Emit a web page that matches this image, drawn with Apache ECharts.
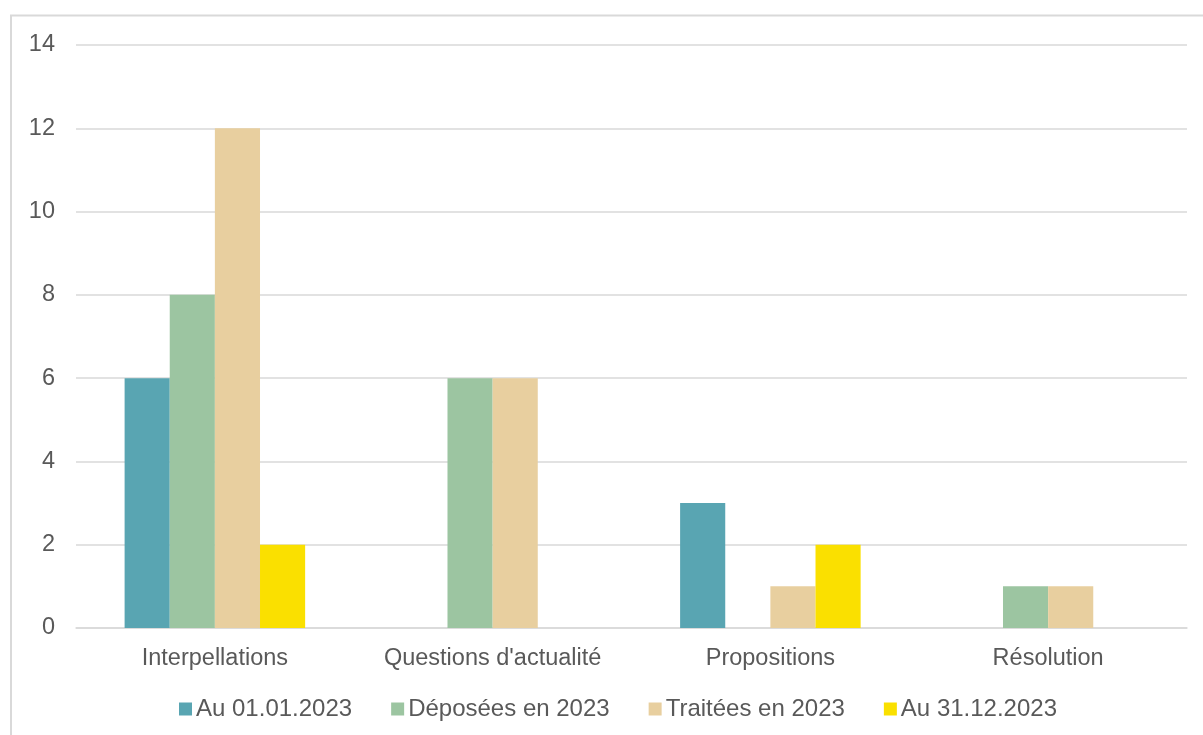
<!DOCTYPE html>
<html>
<head>
<meta charset="utf-8">
<script src="https://cdn.jsdelivr.net/npm/echarts@6/dist/echarts.min.js"></script>
<style>html,body{margin:0;padding:0;background:#fff}#c{width:1203px;height:735px}</style>
</head>
<body>
<div id="c"></div>
<script>
const categories = ["Interpellations", "Questions d'actualité", "Propositions", "Résolution"];
const seriesNames = ["Au 01.01.2023", "Déposées en 2023", "Traitées en 2023", "Au 31.12.2023"];
const au0101 = [6, 0, 3, 0];
const deposees = [8, 6, 0, 1];
const traitees = [12, 6, 1, 1];
const au3112 = [2, 0, 2, 0];
const yTicks = [0, 2, 4, 6, 8, 10, 12, 14];
const colors = ["#59A5B2", "#9CC5A1", "#E8CF9F", "#FAE000"];

const values = [au0101, deposees, traitees, au3112];
const chart = echarts.init(document.getElementById('c'), null, {renderer: 'canvas'});
const font = "'Liberation Sans', Arial, sans-serif";
chart.setOption({
  animation: false,
  backgroundColor: '#fff',
  textStyle: {fontFamily: font},
  graphic: [{
    type: 'rect', silent: true,
    shape: {x: 11, y: 15.5, width: 1400, height: 1000},
    style: {fill: 'none', stroke: '#d9d9d9', lineWidth: 2}
  }],
  grid: {left: 76, right: 16, top: 45, bottom: 107, containLabel: false},
  legend: {
    data: seriesNames,
    bottom: 9,
    left: 174,
    itemWidth: 13, itemHeight: 13, itemGap: 39,
    icon: 'rect',
    textStyle: {fontSize: 24, color: '#595959', fontFamily: font, padding: [0, 0, 0, -1]}
  },
  xAxis: {
    type: 'category',
    data: categories,
    axisLine: {lineStyle: {color: '#d9d9d9', width: 1.5}},
    axisTick: {show: false},
    axisLabel: {fontSize: 23.5, color: '#595959', margin: 19, fontFamily: font, interval: 0}
  },
  yAxis: {
    type: 'value',
    min: yTicks[0], max: yTicks[yTicks.length - 1], interval: 2,
    axisLine: {show: false},
    axisTick: {show: false},
    splitLine: {lineStyle: {color: '#d9d9d9', width: 1.5}},
    axisLabel: {fontSize: 23.5, color: '#595959', margin: 21, fontFamily: font}
  },
  series: seriesNames.map((n, i) => ({
    name: n,
    type: 'bar',
    data: values[i],
    itemStyle: {color: colors[i]},
    barGap: '0%',
    barCategoryGap: '35%'
  }))
});
</script>
</body>
</html>
